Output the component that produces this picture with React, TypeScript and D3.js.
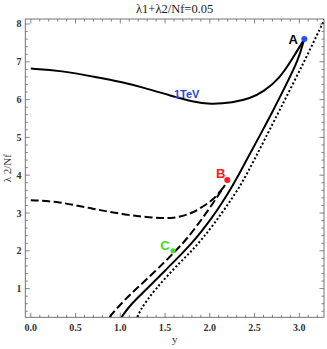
import React from "react";
import * as d3 from "d3";

const W = 327;
const H = 349;

// ---- data (x = y-coordinate, y = λ2/Nf) ----
const solidUpperX = [0, 0.33, 0.77, 1.0, 1.257, 1.555, 1.816, 2.0, 2.26, 2.45, 2.6, 2.78, 2.915, 3.056];
const solidUpperY = [6.82, 6.77, 6.58, 6.47, 6.32, 6.11, 5.94, 5.875, 5.92, 6.03, 6.21, 6.56, 7.05, 7.6];

const solidLowerX = [1.015, 1.09, 1.19, 1.3, 1.51, 1.72, 1.845, 1.97, 2.09, 2.2, 2.31, 2.41, 2.56, 2.71, 2.85, 2.99, 3.056];
const solidLowerY = [0.25, 0.5, 0.75, 1.0, 1.5, 2.0, 2.33, 2.7, 3.1, 3.5, 3.95, 4.4, 5.05, 5.72, 6.38, 7.05, 7.6];

const dashedUpperX = [0, 0.31, 0.68, 1.05, 1.425, 1.61, 1.8, 1.93, 2.04, 2.11, 2.17];
const dashedUpperY = [3.34, 3.3, 3.12, 2.95, 2.86, 2.86, 2.99, 3.18, 3.36, 3.55, 3.74];

const dashedLowerX = [0.88, 0.97, 1.07, 1.18, 1.41, 1.62, 1.75, 1.9, 2.04, 2.17];
const dashedLowerY = [0.25, 0.5, 0.75, 1.0, 1.5, 2.0, 2.33, 2.8, 3.27, 3.74];

const dottedX = [1.19, 1.23, 1.3, 1.4, 1.53, 1.67, 1.8, 1.92, 2.05, 2.18, 2.31, 2.43, 2.55, 2.78, 3.065, 3.25, 3.29];
const dottedY = [0.25, 0.45, 0.7, 1.0, 1.35, 1.7, 2.0, 2.33, 2.72, 3.15, 3.6, 4.1, 4.65, 5.72, 7.05, 7.97, 8.15];

const pointNames = ["A", "B", "C"];
const pointX = [3.056, 2.195, 1.59];
const pointY = [7.6, 3.87, 2.0];
const pointColors = ["#2a4dff", "#ff1a1a", "#44dd22"];

const xTickLabels = ["0.0", "0.5", "1.0", "1.5", "2.0", "2.5", "3.0"];
const yTickLabels = ["1", "2", "3", "4", "5", "6", "7", "8"];

const title = "λ1+λ2/Nf=0.05";
const xLabel = "y";
const yLabel = "λ 2/Nf";
const curveLabel = "1TeV";

// ---- layout ----
const left = 25.3, right = 324, top = 19, bottom = 317.3;
const x = d3.scaleLinear().domain([-0.0615, 3.276]).range([left, right]);
const y = d3.scaleLinear().domain([0.241, 8.132]).range([bottom, top]);

const zip = (xs: number[], ys: number[]) => xs.map((v, i) => [v, ys[i]] as [number, number]);
const line = d3.line<[number, number]>().x(d => x(d[0])).y(d => y(d[1])).curve(d3.curveBasis);

export default function App() {
  const frameColor = "#666";
  const xMinor = d3.range(0, 3.2501, 0.1).filter(v => v >= -0.06 && v <= 3.27);
  const yMinor = d3.range(0.4, 8.0001, 0.2);
  const serif = "'Liberation Serif', 'DejaVu Serif', serif";
  const sans = "'Liberation Sans', Arial, sans-serif";
  return (
    <svg width={W} height={H} style={{ position: "absolute", left: 0, top: 0, background: "#fff" }}>
      <defs>
        <clipPath id="plot">
          <rect x={left} y={top} width={right - left} height={bottom - top} />
        </clipPath>
      </defs>
      <text x={(left + right) / 2} y={12.5} textAnchor="middle" fontFamily={serif} fontSize={12.5} fill="#222">{title}</text>

      {/* ticks */}
      {xMinor.map((v, i) => {
        const major = Math.abs(v * 2 - Math.round(v * 2)) < 1e-6;
        const len = major ? 4.5 : 2.5;
        return (
          <g key={"xt" + i} stroke={frameColor} strokeWidth={0.8}>
            <line x1={x(v)} x2={x(v)} y1={bottom} y2={bottom - len} />
            <line x1={x(v)} x2={x(v)} y1={top} y2={top + len} />
          </g>
        );
      })}
      {yMinor.map((v, i) => {
        const major = Math.abs(v - Math.round(v)) < 1e-6;
        const len = major ? 4.5 : 2.5;
        return (
          <g key={"yt" + i} stroke={frameColor} strokeWidth={0.8}>
            <line x1={left} x2={left + len} y1={y(v)} y2={y(v)} />
            <line x1={right} x2={right - len} y1={y(v)} y2={y(v)} />
          </g>
        );
      })}
      <rect x={left} y={top} width={right - left} height={bottom - top} fill="none" stroke={frameColor} strokeWidth={0.9} />

      {xTickLabels.map(t => (
        <text key={"xl" + t} x={x(+t)} y={331} textAnchor="middle" fontFamily={serif} fontWeight="bold" fontSize={10} fill="#333">{t}</text>
      ))}
      {yTickLabels.map(t => (
        <text key={"yl" + t} x={21.5} y={y(+t) + 3.5} textAnchor="end" fontFamily={serif} fontWeight="bold" fontSize={10} fill="#333">{t}</text>
      ))}
      <text x={(left + right) / 2} y={343} textAnchor="middle" fontFamily={serif} fontSize={11} fill="#333">{xLabel}</text>
      <text transform={`translate(10.5, ${(top + bottom) / 2}) rotate(-90)`} textAnchor="middle" fontFamily={serif} fontSize={11} fill="#333">{yLabel}</text>

      <g clipPath="url(#plot)" fill="none" stroke="#000" strokeWidth={2}>
        <path d={line(zip(solidUpperX, solidUpperY)) || ""} />
        <path d={line(zip(solidLowerX, solidLowerY)) || ""} />
        <path d={line(zip(dashedUpperX, dashedUpperY)) || ""} strokeDasharray="8,3.5" />
        <path d={line(zip(dashedLowerX, dashedLowerY)) || ""} strokeDasharray="8,3.5" />
        <path d={line(zip(dottedX, dottedY)) || ""} strokeDasharray="2,2.2" />
      </g>

      <text x={186.7} y={98} textAnchor="middle" fontFamily={sans} fontWeight="bold" fontSize={11} fill="#2b44d6">{curveLabel}</text>

      {pointNames.map((n, i) => (
        <circle key={"p" + n} cx={x(pointX[i])} cy={y(pointY[i])} r={i === 2 ? 2.6 : 3} fill={pointColors[i]} />
      ))}
      <text x={293.3} y={44} textAnchor="middle" fontFamily={sans} fontWeight="bold" fontSize={13} fill="#000">{pointNames[0]}</text>
      <text x={220.7} y={177.5} textAnchor="middle" fontFamily={sans} fontWeight="bold" fontSize={13} fill={pointColors[1]}>{pointNames[1]}</text>
      <text x={165} y={249.5} textAnchor="middle" fontFamily={sans} fontWeight="bold" fontSize={13} fill={pointColors[2]}>{pointNames[2]}</text>
    </svg>
  );
}
